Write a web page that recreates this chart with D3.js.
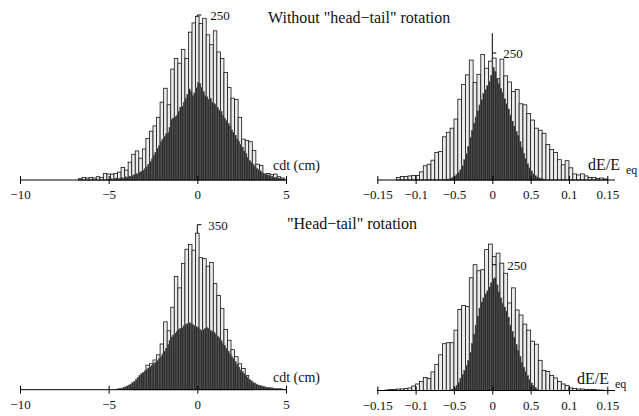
<!DOCTYPE html>
<html>
<head>
<meta charset="utf-8">
<script src="https://cdn.jsdelivr.net/npm/d3@7"></script>
<style>
  body { margin: 0; background: #fff; }
  text { font-family: "Liberation Serif", "Times New Roman", serif; fill: #111; }
</style>
</head>
<body>
<script>
// ---- data: histogram counts ----
// cdt (cm) panels, open bars 0.2 cm wide, filled bars 0.1 cm wide
const tlOpenStart = -6.7, tlOpenStep = 0.2;
const tlOpen = [2,4,3,4,3,5,4, 10,9,9,10,12,19,15,27,39,44, 33,47,63,74,82,95,118,139,114,168,
  184,177,198,184,224,238,248,237,245,220, 205,226,194,184,163,140,124,122,95,62,
  60,58,45,24,22,9,10,8,9,5, 3];
const tlFillStart = -5.0, tlFillStep = 0.1;
const tlFill = [1,2,1,2,3,2,3,4,3,5, 4,6,5,7,8,10,9,12,13,15, 17,20,24,28,32,38,42,48,52,58,
  62,66,70,72,80,92,94,96,98,104, 110,112,118,124,130,138,134,128,132,140,
  148,146,140,134,128,126,122,124,118,116, 114,110,106,104,98,94,90,86,82,76,
  72,68,62,58,54,50,44,40,34,30, 27,24,21,18,16,14,12,10,9,8, 7,6,5,4,4,3,3,2,2,1];

const blOpenStart = -3.7, blOpenStep = 0.2;
const blOpen = [5,10,18,32,52,55,63,74,97,144,125,175,240,216,268,298,308,296,332,
  280,278,262,270,225,200,172,128,105,85,70,55,45,30,10];
const blFillStart = -4.6, blFillStep = 0.1;
const blFill = [1,2,3,3,5,6, 8,10,12,15,18,22,26,30,34,37, 40,43,46,49,52,55,58,62,66,70,
  76,82,88,96,104,112,116,120,124,128, 130,132,136,138,140,142,140,138,136,134,
  132,128,126,128,130,132,130,126,124,122, 118,114,110,104,98,94,88,82,76,70,
  66,60,54,48,42,38,34,30,26,22, 19,16,14,12,10,9,8,7,6,5, 5,4,4,3,3,2,2,2,1,1];

// dE/E eq panels, open bars 0.005 wide, filled bars 0.0025 wide
const trOpenStart = -0.125, trOpenStep = 0.005;
const trOpen = [5,7,7,8,9,9,16,28,31,39,54,56,85,94,102,120,159,188,207,236,192,208,247,220,234,
  240,200,238,205,193,174,178,150,148,131,118,102,98,92,70,60,54,40,30,38,24,12,10,12,8,5,5,3,4,2];
const trFillStart = -0.0625, trFillStep = 0.0025;
const trFill = [1,2,2,4,5,8,11,15,20,28,40,52,66,84,98,112,124,136,148,158,170,178,186,194,206,
  222,214,200,190,180,172,160,150,140,128,116,106,96,88,76,64,52,42,32,24,18,12,9,6,4,3,2,1];

const brOpenStart = -0.140, brOpenStep = 0.005;
const brOpen = [1,2,2,3,3,4,5,9,13,18,26,24,37,52,71,93,95,95,120,161,169,167,224,250,238,240,280,291,
  266,273,253,233,174,204,160,150,132,120,98,92,60,40,38,30,25,18,13,10,5,4,3,3,2,2,2,1,1];
const brFillStart = -0.055, brFillStep = 0.0025;
const brFill = [2,3,5,10,16,24,32,40,50,60,76,94,112,130,148,164,176,184,192,198,206,214,
  222,224,210,196,184,174,166,158,146,130,118,106,92,80,68,56,46,38,30,22,15,10,6,3,1];

// axis ticks
const cdtTicks = [-10, -5, 0, 5];
const cdtTickLabels = ["\u221210", "\u22125", "0", "5"];
const deTicks = [-0.15, -0.1, -0.05, 0, 0.05, 0.1, 0.15];
const deTickLabels = ["\u22120.15", "\u22120.1", "\u22120.5", "0", "0.5", "0.1", "0.15"];

const titles = ["Without \"head\u2212tail\" rotation", "\"Head\u2212tail\" rotation"];

// ---- drawing ----
const svg = d3.select("body").append("svg")
    .attr("width", 639)
    .attr("height", 416);

function panel(p) {
  const x = d3.scaleLinear().domain(p.xDomain).range(p.xRange);
  const y = d3.scaleLinear().domain([0, p.yRef]).range([p.axisY, p.yRefPx]);
  const g = svg.append("g");

  // y axis line sits behind the bars
  g.append("line")
      .attr("x1", x(0)).attr("x2", x(0))
      .attr("y1", y(0)).attr("y2", y(p.yTop))
      .attr("stroke", "#000").attr("stroke-width", 1);

  function bars(counts, start, step, fill, stroke, sw) {
    g.append("g").selectAll("rect")
      .data(counts)
      .join("rect")
        .attr("x", (d, i) => x(start + i * step))
        .attr("width", (d, i) => x(start + (i + 1) * step) - x(start + i * step))
        .attr("y", d => y(d))
        .attr("height", d => y(0) - y(d))
        .attr("fill", fill)
        .attr("stroke", stroke)
        .attr("stroke-width", sw);
  }
  bars(p.open, p.openStart, p.openStep, "#ececec", "#151515", 0.8);
  bars(p.fill, p.fillStart, p.fillStep, "#2b2b2b", "#5e5e5e", 0.4);

  // x axis
  const ax = d3.axisBottom(x)
      .tickValues(p.ticks)
      .tickFormat((d, i) => p.tickLabels[i])
      .tickSizeInner(4)
      .tickSizeOuter(0)
      .tickPadding(6);
  const ag = g.append("g")
      .attr("transform", "translate(0," + p.axisY + ")")
      .call(ax);
  ag.select(".domain").remove();
  ag.append("line")
      .attr("x1", x(p.axisFrom)).attr("x2", x(p.axisTo))
      .attr("stroke", "#000").attr("stroke-width", 1);
  ag.selectAll(".tick line").attr("y1", -4).attr("y2", 4).attr("stroke", "#000");
  ag.selectAll(".tick text")
      .attr("font-family", "Liberation Serif, Times New Roman, serif")
      .attr("font-size", 13)
      .attr("fill", "#111");

  // the one y tick and its label
  g.append("line")
      .attr("x1", x(0)).attr("x2", x(0) + 4)
      .attr("y1", y(p.yRef)).attr("y2", y(p.yRef))
      .attr("stroke", "#000").attr("stroke-width", 1);
  g.append("text")
      .attr("x", x(0) + p.yLabelDx)
      .attr("y", y(p.yRef) + 5)
      .attr("font-size", 13)
      .text(p.yRef);

  // axis name
  if (p.unit === "cdt") {
    g.append("text").attr("x", p.nameX).attr("y", p.nameY)
      .attr("font-size", 14).text("cdt (cm)");
  } else {
    g.append("text").attr("x", p.nameX).attr("y", p.nameY)
      .attr("font-size", 16).text("dE/E");
    g.append("text").attr("x", p.nameX + 38).attr("y", p.nameY + 4)
      .attr("font-size", 12).text("eq");
  }
}

panel({unit: "cdt", xDomain: [-10, 5], xRange: [20, 286], axisY: 180, yRef: 250, yRefPx: 15, yTop: 250,
  open: tlOpen, openStart: tlOpenStart, openStep: tlOpenStep,
  fill: tlFill, fillStart: tlFillStart, fillStep: tlFillStep,
  ticks: cdtTicks, tickLabels: cdtTickLabels, axisFrom: -10, axisTo: 5,
  yLabelDx: 13, nameX: 273, nameY: 170});

panel({unit: "de", xDomain: [-0.15, 0.15], xRange: [377.3, 607.3], axisY: 180, yRef: 250, yRefPx: 53, yTop: 289,
  open: trOpen, openStart: trOpenStart, openStep: trOpenStep,
  fill: trFill, fillStart: trFillStart, fillStep: trFillStep,
  ticks: deTicks, tickLabels: deTickLabels, axisFrom: -0.15, axisTo: 0.16,
  yLabelDx: 11, nameX: 588, nameY: 170});

panel({unit: "cdt", xDomain: [-10, 5], xRange: [20, 286], axisY: 389.7, yRef: 350, yRefPx: 224.7, yTop: 350,
  open: blOpen, openStart: blOpenStart, openStep: blOpenStep,
  fill: blFill, fillStart: blFillStart, fillStep: blFillStep,
  ticks: cdtTicks, tickLabels: cdtTickLabels, axisFrom: -10, axisTo: 5,
  yLabelDx: 11, nameX: 273, nameY: 382});

panel({unit: "de", xDomain: [-0.15, 0.15], xRange: [377.3, 607.3], axisY: 390.5, yRef: 250, yRefPx: 264.7, yTop: 250,
  open: brOpen, openStart: brOpenStart, openStep: brOpenStep,
  fill: brFill, fillStart: brFillStart, fillStep: brFillStep,
  ticks: deTicks, tickLabels: deTickLabels, axisFrom: -0.15, axisTo: 0.16,
  yLabelDx: 15, nameX: 577, nameY: 384});

// titles
svg.append("text").attr("x", 268).attr("y", 23).attr("font-size", 16).text(titles[0]);
svg.append("text").attr("x", 287).attr("y", 229).attr("font-size", 16).text(titles[1]);
</script>
</body>
</html>
